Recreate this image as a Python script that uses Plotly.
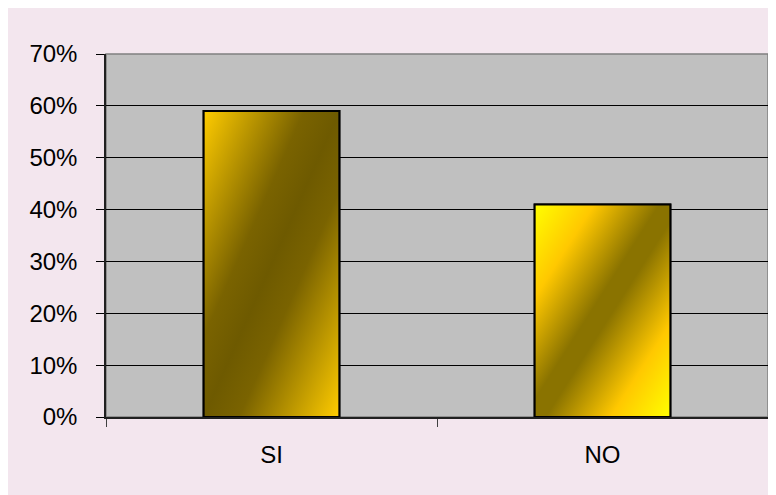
import base64
import plotly.graph_objects as go

categories = ["SI", "NO"]
values = [59, 41]
y_ticks = [0, 10, 20, 30, 40, 50, 60, 70]

BAR_W = 0.41
PINK = "#F3E6EE"
GRAY = "#C0C0C0"

gradients = [
    [(0, "#FFCC00"), (0.37, "#7A6300"), (0.5, "#6E5A00"), (0.63, "#7A6300"), (1, "#FFCC00")],
    [(0, "#FFFF00"), (0.22, "#FFC800"), (0.46, "#8A7300"), (0.54, "#8A7300"),
     (0.78, "#FFC800"), (1, "#FFFF00")],
]


def grad_uri(stops):
    st = "".join(f'<stop offset="{o}" stop-color="{c}"/>' for o, c in stops)
    svg = (
        '<svg xmlns="http://www.w3.org/2000/svg" width="100" height="100" '
        'viewBox="0 0 100 100" preserveAspectRatio="none">'
        '<defs><linearGradient id="g" x1="0" y1="0" x2="1" y2="1">'
        f"{st}</linearGradient></defs>"
        '<rect x="0" y="0" width="100" height="100" fill="url(#g)"/></svg>'
    )
    return "data:image/svg+xml;base64," + base64.b64encode(svg.encode()).decode()


fig = go.Figure(
    go.Bar(
        x=categories,
        y=values,
        width=BAR_W,
        marker=dict(color="#FFCC00", line=dict(color="black", width=2)),
        hovertemplate="%{x}: %{y}%<extra></extra>",
    )
)

images = []
shapes = []
for i, v in enumerate(values):
    images.append(
        dict(
            source=grad_uri(gradients[i]),
            xref="x", yref="y",
            x=i - BAR_W / 2, y=v,
            sizex=BAR_W, sizey=v,
            xanchor="left", yanchor="top",
            sizing="stretch", layer="above",
        )
    )
    shapes.append(
        dict(
            type="rect", xref="x", yref="y",
            x0=i - BAR_W / 2, x1=i + BAR_W / 2, y0=0, y1=v,
            line=dict(color="black", width=2), layer="above",
        )
    )

# plot-area frame (top/right in gray)
shapes.append(
    dict(type="rect", xref="paper", yref="paper", x0=0, x1=1, y0=0, y1=1,
         line=dict(color="#808080", width=1.5), layer="below")
)

fig.update_layout(
    width=776,
    height=495,
    autosize=False,
    margin=dict(l=98, r=16, t=46, b=86),
    paper_bgcolor=PINK,
    plot_bgcolor=GRAY,
    font=dict(family="Liberation Sans, Arial, sans-serif", size=24, color="black"),
    showlegend=False,
    bargap=0.59,
    images=images,
    shapes=shapes,
)

fig.update_yaxes(
    range=[0, 70],
    tickvals=y_ticks,
    ticktext=[f"{t}%" for t in y_ticks],
    showgrid=True,
    gridcolor="black",
    gridwidth=1,
    zeroline=False,
    showline=True,
    linecolor="#202020",
    linewidth=1.5,
    ticks="outside",
    ticklen=8,
    tickcolor="black",
    ticklabelstandoff=14,
)

fig.update_xaxes(
    showgrid=False,
    showline=True,
    linecolor="#202020",
    linewidth=1.5,
    ticks="outside",
    tickson="boundaries",
    ticklen=8,
    tickcolor="#404040",
    ticklabelstandoff=15,
)

fig.write_html("out.html")
